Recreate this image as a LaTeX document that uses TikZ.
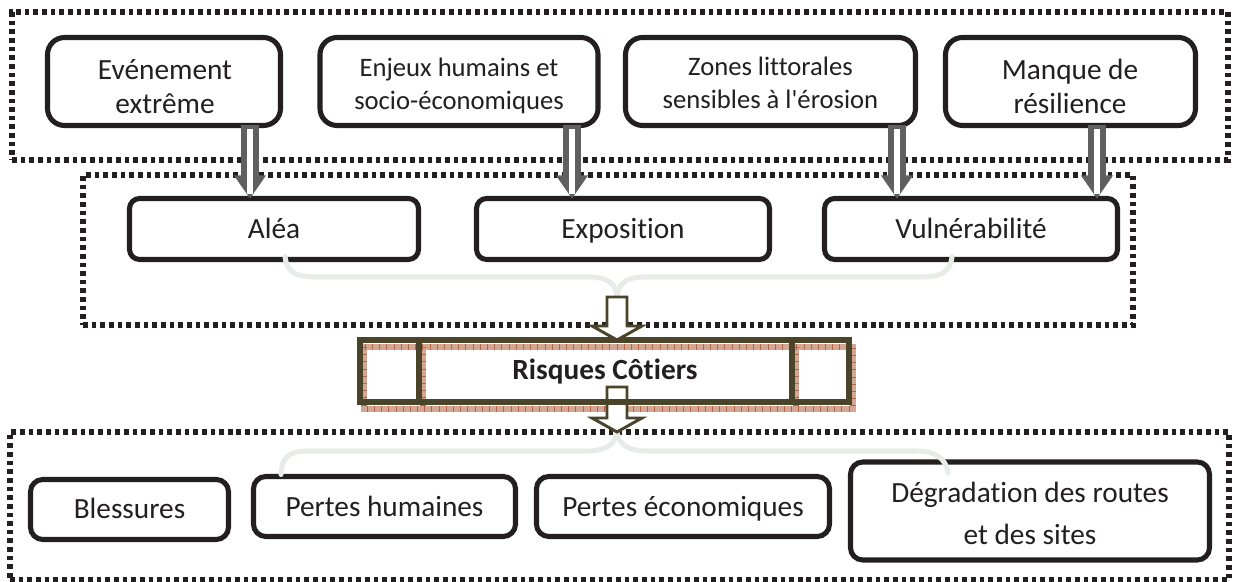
\documentclass[tikz,border=0pt]{standalone}
\usepackage{fontspec}
\newfontfamily\carl{Carlito}[Ligatures=NoCommon]
\usetikzlibrary{calc}
\definecolor{ink}{RGB}{35,31,32}
\definecolor{arrgray}{RGB}{96,96,96}
\definecolor{olive}{RGB}{74,68,42}
\definecolor{shadowbrown}{RGB}{212,166,148}
\definecolor{shadowgrid}{RGB}{182,100,70}
\definecolor{brack}{RGB}{232,236,232}
\newcommand\pxu{0.3754pt}
\newcommand\grayarrow[2]{%
  \draw[arrgray, line width=6.5pt] (#1) -- ($(#2)+(0,-21)$);
  \fill[arrgray] ($(#2)+(-16,-23)$) -- (#2) -- ($(#2)+(16,-23)$) -- cycle;
  \draw[white, line width=1.9pt] ($(#1)+(0,4)$) -- ($(#2)+(0,-4)$);}
\newcommand\hollowarrow[2]{%
  \filldraw[fill=white, draw=olive, line width=1.1pt, line join=miter]
   ($(#1)+(-10,0)$) -- ($(#2)+(-10,-14)$) -- ($(#2)+(-25,-14)$) -- (#2)
   -- ($(#2)+(25,-14)$) -- ($(#2)+(10,-14)$) -- ($(#1)+(10,0)$) -- cycle;}
\begin{document}
\begin{tikzpicture}[x=\pxu, y=-\pxu,
  sz/.style 2 args={minimum width=#1*\pxu, minimum height=#2*\pxu},
  dotbox/.style={draw=ink, line width=2pt, dash pattern=on 1.75pt off 1.5pt, inner sep=0pt, outer sep=0pt},
  topbox/.style={draw=ink, line width=1.9pt, fill=white, rounded corners=6.4pt, inner sep=0pt, outer sep=0pt},
  midbox/.style={topbox, rounded corners=3.8pt},
  lowbox/.style={topbox, rounded corners=4.6pt},
  t11/.style={anchor=base, inner sep=0pt, text=ink, font=\carl\fontsize{11}{13}\selectfont},
  t10/.style={t11, font=\carl\fontsize{10}{12}\selectfont},
  brk/.style={draw=brack, line width=1.9pt, line cap=round},
  frame/.style={line width=2.4pt},
  shadowline/.style={draw=shadowbrown, line width=2.4pt},
  shadowtick/.style={draw=shadowgrid, line width=2.4pt, dash pattern=on 0.3pt off 2.4pt}]
\useasboundingbox (0,0) rectangle (1234,582);

% dotted zones
\node[dotbox, sz={1216}{148}] (topzone) at (620,86) {};
\node[dotbox, sz={1050}{150}] (midzone) at (608,250) {};
\node[dotbox, sz={1219}{148}] (lowzone) at (619.5,506) {};

% top boxes
\node[topbox, sz={233}{88}] (b1) at (164,81.5) {};
\node[topbox, sz={278}{88}] (b2) at (459,81.5) {};
\node[topbox, sz={290}{88}] (b3) at (770.5,81.5) {};
\node[topbox, sz={250}{88}] (b4) at (1070.5,81.5) {};
\begin{scope}
\clip (0,0) rectangle (1234,113.5);
\node[t11] (b1l1) at (165,79.3) {Evénement};
\node[t11] (b1l2) at (165,113.3) {extrême};
\node[t10] (b2l1) at (459,76.7) {Enjeux humains et};
\node[t10] (b2l2) at (459,110) {socio-économiques};
\node[t10] (b3l1) at (770.5,76) {Zones littorales};
\node[t10] (b3l2) at (770.5,108.5) {sensibles à l'érosion};
\node[t11] (b4l1) at (1070,79.3) {Manque de};
\node[t11] (b4l2) at (1070,113.3) {résilience};
\end{scope}

% middle boxes
\node[midbox, sz={289}{61}] (alea) at (274,229) {};
\node[midbox, sz={293}{61}] (expo) at (623,229) {};
\node[midbox, sz={293}{61}] (vuln) at (971,229) {};
\node[t11] (aleat) at (274,239) {Aléa};
\node[t11] (expot) at (623,239) {Exposition};
\node[t11] (vulnt) at (971,239) {Vulnérabilité};

% bottom boxes
\node[lowbox, sz={198}{60}] (bles) at (129.5,509.5) {};
\node[lowbox, sz={262}{60}] (phum) at (384.5,506.5) {};
\node[lowbox, sz={293}{60}] (peco) at (683,506.5) {};
\node[lowbox, sz={359}{98}] (degr) at (1030,511) {};
\node[t11] (blest) at (129.5,519) {Blessures};
\node[t11] (phumt) at (384.5,517) {Pertes humaines};
\node[t11] (pecot) at (683,517) {Pertes économiques};
\node[t11] (degl1) at (1030,503) {Dégradation des routes};
\node[t11] (degl2) at (1030,545) {et des sites};

% gray arrows
\coordinate (ax1) at (250,0);
\coordinate (ax2) at (572,0);
\coordinate (ax3) at (897,0);
\coordinate (ax4) at (1097,0);
\grayarrow{b1.south -| ax1}{alea.north -| ax1}
\grayarrow{b2.south -| ax2}{expo.north -| ax2}
\grayarrow{b3.south -| ax3}{vuln.north -| ax3}
\grayarrow{b4.south -| ax4}{vuln.north -| ax4}

% brackets
\coordinate (hx) at (617,0);
\coordinate (j1) at (617,297);
\coordinate (j2) at (lowzone.north -| hx);
\coordinate (bl1) at (285,0);
\coordinate (br1) at (952,0);
\coordinate (bl2) at (281,0);
\coordinate (br2) at (948,0);
\draw[brk] ($(alea.south -| bl1)+(0,-3)$) .. controls (287,274) and (298,277) .. (318,277) -- (590,277) .. controls (608,277) and (616,284) .. (j1);
\draw[brk] ($(vuln.south -| br1)+(0,-3)$) .. controls (950,274) and (939,277) .. (919,277) -- (644,277) .. controls (626,277) and (618,284) .. (j1);
\draw[brk] (j2) .. controls (615,446) and (604,451) .. (586,451) -- (306,451) .. controls (289,451) and (281,459) .. ($(phum.north -| bl2)+(0,-2)$);
\draw[brk] (j2) .. controls (619,446) and (630,451) .. (648,451) -- (915,451) .. controls (935,451) and (946,458) .. ($(degr.north -| br2)+(0,11)$);

% Risques cotiers
\node[sz={489}{62}, inner sep=0pt, outer sep=0pt] (risk) at (604.5,371) {};
\coordinate (dv1) at (419,0);
\coordinate (dv2) at (792,0);
\foreach \sty in {shadowline, shadowtick}{
  \draw[\sty] ($(risk.north west)+(4,7)$) rectangle ($(risk.south east)+(4,7)$);
  \draw[\sty] ($(risk.north -| dv1)+(4,7)$) -- ($(risk.south -| dv1)+(4,7)$);
  \draw[\sty] ($(risk.north -| dv2)+(4,7)$) -- ($(risk.south -| dv2)+(4,7)$);
}
\coordinate (h2s) at ($(risk.south -| hx)+(0,-15)$);
\hollowarrow{h2s}{j2}
\draw[draw=olive, frame] (risk.north west) rectangle (risk.south east);
\draw[draw=olive, frame] (risk.north -| dv1) -- (risk.south -| dv1);
\draw[draw=olive, frame] (risk.north -| dv2) -- (risk.south -| dv2);
\node[t11, font=\carl\bfseries\fontsize{11}{13}\selectfont] (risktxt) at (605,380) {Risques Côtiers};
\hollowarrow{j1}{risk.north -| hx}
\end{tikzpicture}
\end{document}
